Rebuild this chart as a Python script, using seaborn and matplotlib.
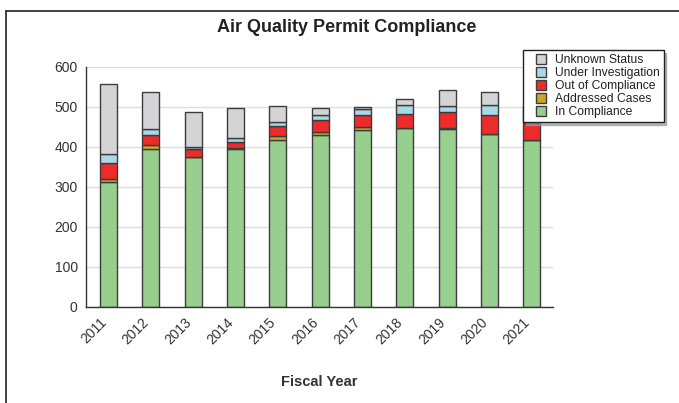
import pandas as pd
import seaborn as sns
import matplotlib.pyplot as plt
import matplotlib.patches as mpatches
import matplotlib.transforms as mtransforms
import numpy as np
from matplotlib.lines import Line2D
from matplotlib.legend_handler import HandlerPatch
from matplotlib.ticker import MultipleLocator

# values (2021 upper part hidden behind legend, estimated)
years = ["2011", "2012", "2013", "2014", "2015", "2016", "2017", "2018", "2019", "2020", "2021"]
in_compliance = [312, 396, 376, 396, 418, 429, 442, 448, 444, 433, 417]
addressed = [8, 9, 0, 2, 9, 8, 8, 0, 3, 0, 0]
out_of_compliance = [39, 25, 20, 15, 26, 30, 30, 35, 41, 47, 42]
under_investigation = [23, 15, 3, 9, 10, 14, 14, 22, 14, 26, 18]
unknown_status = [175, 92, 89, 75, 40, 16, 6, 16, 40, 32, 25]

series = [
    ("In Compliance", in_compliance, "#98ce8e"),
    ("Addressed Cases", addressed, "#c8a82a"),
    ("Out of Compliance", out_of_compliance, "#ee2b2b"),
    ("Under Investigation", under_investigation, "#a9d8e6"),
    ("Unknown Status", unknown_status, "#d4d4d6"),
]
EDGE = "#3c3c3c"

sns.set_theme(style="white")
plt.rcParams["font.family"] = ["Liberation Sans", "DejaVu Sans"]

fig = plt.figure(figsize=(6.79, 4.03), dpi=100)
ax = fig.add_axes([86 / 679, 1 - 307 / 403, 467 / 679, 240 / 403])

bottom = np.zeros(len(years))
for name, vals, col in series:
    df = pd.DataFrame({"year": years, "value": vals})
    sns.barplot(data=df, x="year", y="value", color=col, saturation=1, width=0.4,
                bottom=bottom, edgecolor=EDGE, linewidth=1, errorbar=None, ax=ax)
    bottom = bottom + np.array(vals)

ax.set_xlim(-0.53, 10.5)
ax.set_ylim(0, 600)
ax.yaxis.set_major_locator(MultipleLocator(100))
ax.yaxis.set_minor_locator(MultipleLocator(50))
ax.grid(axis="y", color="#dddddd", linewidth=1)
ax.set_axisbelow(True)

for s in ["top", "right"]:
    ax.spines[s].set_visible(False)
for s in ["left", "bottom"]:
    ax.spines[s].set_color("#333333")
    ax.spines[s].set_linewidth(1)

ax.tick_params(axis="y", which="both", direction="in", length=4, color="#333333",
               labelsize=10, labelcolor="#333333", pad=6)
ax.tick_params(axis="x", which="major", length=0, labelsize=10, labelcolor="#333333", pad=4)
ax.set_xticks(np.arange(0.5, 11, 1), minor=True)
ax.tick_params(axis="x", which="minor", direction="in", length=4, color="#333333")
ax.set_xticks(range(len(years)))
ax.set_xticklabels(years, rotation=45, ha="right", rotation_mode="anchor")
shift = mtransforms.ScaledTranslation(-9 / 100, -3 / 100, fig.dpi_scale_trans)
for lbl in ax.get_xticklabels():
    lbl.set_transform(lbl.get_transform() + shift)

ax.set_ylabel("")
ax.set_xlabel("Fiscal Year", fontsize=10.5, fontweight="bold", color="#333333")
ax.xaxis.set_label_coords(0.5, -0.283)

fig.text(0.51, 1 - 27 / 403, "Air Quality Permit Compliance", ha="center", va="center",
         fontsize=13, fontweight="bold", color="#222222")


# legend squares sit at the right end of a wider handle box (extra left padding)
def square(legend, orig_handle, xdescent, ydescent, width, height, fontsize):
    side = height
    return mpatches.Rectangle((width - side - xdescent, -ydescent), side, side)


handles = [mpatches.Patch(facecolor=col, edgecolor=EDGE, linewidth=1, label=name)
           for name, vals, col in series][::-1]
leg = ax.legend(handles=handles, loc="upper right", bbox_to_anchor=(1.237, 1.07),
                borderaxespad=0, fontsize=8.7, frameon=True, fancybox=False,
                shadow={"color": "#9a9a9a", "alpha": 0.7},
                labelspacing=0.075, handlelength=1.57, handleheight=0.9, handletextpad=0.8,
                borderpad=0.3, handler_map={mpatches.Patch: HandlerPatch(patch_func=square)})
leg.get_frame().set_edgecolor("#222222")
leg.get_frame().set_linewidth(1)
for t in leg.get_texts():
    t.set_color("#222222")

# outer frame lines (top and left) of the original graphic
fig.add_artist(Line2D([6 / 679, 1], [1 - 10.5 / 403] * 2, transform=fig.transFigure,
                      color="#222222", linewidth=1.2))
fig.add_artist(Line2D([6 / 679] * 2, [0, 1 - 10.5 / 403], transform=fig.transFigure,
                      color="#222222", linewidth=1.2))

fig.savefig("out.png", dpi=100)
